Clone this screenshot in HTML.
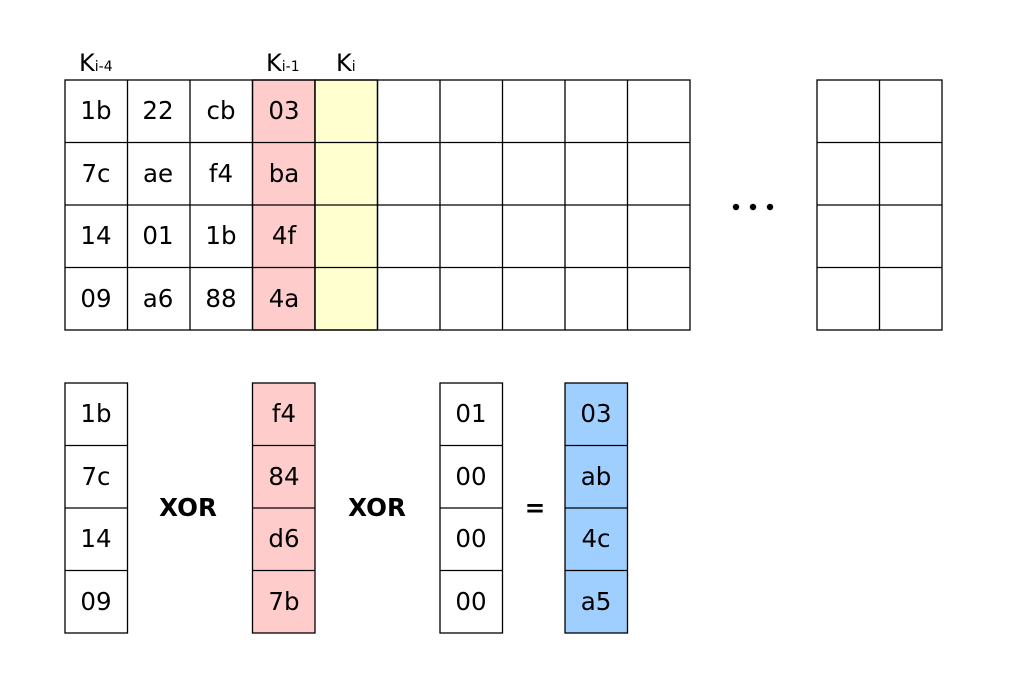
<!DOCTYPE html>
<html><head><meta charset="utf-8"><style>body{margin:0;background:#fff}svg{display:block}text{font-family:"DejaVu Sans","Liberation Sans",sans-serif}</style></head><body>
<svg width="1024" height="692" viewBox="0 0 1024 692" xmlns="http://www.w3.org/2000/svg">
<g font-size="24" fill="#000">
<text x="79" y="71">K<tspan font-size="14">i-4</tspan></text>
<text x="266" y="71">K<tspan font-size="14">i-1</tspan></text>
<text x="336" y="71">K<tspan font-size="14">i</tspan></text>
</g>
<g stroke="#000" stroke-width="1.3">
<rect x="252.5" y="80" width="62.5" height="250" fill="#ffcccc"/>
<rect x="315" y="80" width="62.5" height="250" fill="#ffffd0"/>
<rect x="252.5" y="383" width="62.5" height="250" fill="#ffcccc"/>
<rect x="565" y="383" width="62.5" height="250" fill="#9fcfff"/>
<rect x="65" y="80" width="625" height="250" fill="none"/>
<rect x="817" y="80" width="125" height="250" fill="none"/>
<rect x="65" y="383" width="62.5" height="250" fill="none"/>
<rect x="440" y="383" width="62.5" height="250" fill="none"/>
<path d="M127.5 80V330M190 80V330M252.5 80V330M315 80V330M377.5 80V330M440 80V330M502.5 80V330M565 80V330M627.5 80V330M879.5 80V330
M65 142.5H690M65 205H690M65 267.5H690M817 142.5H942M817 205H942M817 267.5H942
M65 445.5H127.5M65 508H127.5M65 570.5H127.5
M252.5 445.5H315M252.5 508H315M252.5 570.5H315
M440 445.5H502.5M440 508H502.5M440 570.5H502.5
M565 445.5H627.5M565 508H627.5M565 570.5H627.5" fill="none"/>
</g>
<g font-size="24.5" text-anchor="middle" fill="#000">
<text x="96" y="119">1b</text><text x="158" y="119">22</text><text x="221" y="119">cb</text><text x="284" y="119">03</text>
<text x="96" y="182">7c</text><text x="158" y="182">ae</text><text x="221" y="182">f4</text><text x="284" y="182">ba</text>
<text x="96" y="244">14</text><text x="158" y="244">01</text><text x="221" y="244">1b</text><text x="284" y="244">4f</text>
<text x="96" y="307">09</text><text x="158" y="307">a6</text><text x="221" y="307">88</text><text x="284" y="307">4a</text>
<text x="96" y="422">1b</text><text x="96" y="485">7c</text><text x="96" y="547">14</text><text x="96" y="610">09</text>
<text x="284" y="422">f4</text><text x="284" y="485">84</text><text x="284" y="547">d6</text><text x="284" y="610">7b</text>
<text x="471" y="422">01</text><text x="471" y="485">00</text><text x="471" y="547">00</text><text x="471" y="610">00</text>
<text x="596" y="422">03</text><text x="596" y="485">ab</text><text x="596" y="547">4c</text><text x="596" y="610">a5</text>
<g font-weight="bold"><text x="188" y="516">XOR</text><text x="377" y="516">XOR</text><text x="535" y="516">=</text></g>
</g>
<g fill="#000"><circle cx="736" cy="207" r="3.2"/><circle cx="753" cy="207" r="3.2"/><circle cx="770" cy="207" r="3.2"/></g>
</svg>
</body></html>
